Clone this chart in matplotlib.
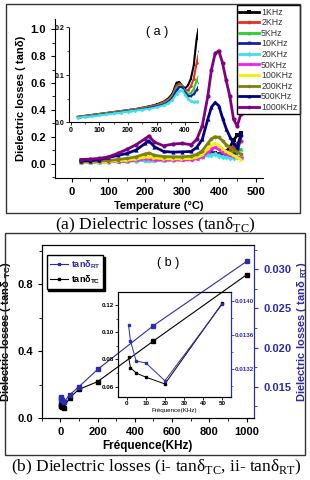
import matplotlib.pyplot as plt
from matplotlib.patches import Rectangle
from matplotlib.ticker import MultipleLocator, FormatStrFormatter

plt.rcParams['font.family'] = ['Liberation Sans', 'DejaVu Sans']
plt.rcParams['font.weight'] = 'bold'
plt.rcParams['axes.labelweight'] = 'bold'

# ---- (a) tan delta vs temperature ----
temp = [25, 50, 75, 100, 125, 150, 175, 200, 210, 225, 250, 275, 300, 325, 340,
        355, 370, 380, 390, 400, 410, 420, 430, 440, 450, 460]
tan_1k = [0.012, 0.014, 0.016, 0.018, 0.020, 0.022, 0.024, 0.026, 0.027, 0.028, 0.031, 0.034, 0.038,
          0.044, 0.050, 0.060, 0.084, 0.085, 0.077, 0.072, 0.078, 0.092, 0.120, 0.175, 0.210, 0.230]
tan_2k = [0.012, 0.014, 0.016, 0.018, 0.020, 0.022, 0.024, 0.026, 0.027, 0.028, 0.031, 0.034, 0.037,
          0.043, 0.048, 0.057, 0.078, 0.082, 0.076, 0.068, 0.068, 0.076, 0.092, 0.125, 0.150, 0.165]
tan_5k = [0.011, 0.013, 0.015, 0.017, 0.019, 0.021, 0.023, 0.025, 0.026, 0.027, 0.029, 0.032, 0.035,
          0.040, 0.045, 0.054, 0.072, 0.078, 0.076, 0.066, 0.060, 0.062, 0.070, 0.088, 0.100, 0.105]
tan_10k = [0.010, 0.012, 0.014, 0.016, 0.018, 0.020, 0.022, 0.024, 0.025, 0.026, 0.028, 0.031, 0.034,
           0.038, 0.043, 0.051, 0.068, 0.075, 0.074, 0.063, 0.056, 0.055, 0.060, 0.068, 0.080, 0.200]
tan_20k = [0.010, 0.012, 0.013, 0.015, 0.017, 0.019, 0.021, 0.023, 0.024, 0.025, 0.027, 0.029, 0.032,
           0.036, 0.040, 0.047, 0.060, 0.067, 0.068, 0.058, 0.050, 0.045, 0.044, 0.044, 0.045, 0.045]
tan_50k = [0.008, 0.009, 0.010, 0.012, 0.015, 0.018, 0.024, 0.035, 0.036, 0.030, 0.025, 0.025, 0.026,
           0.028, 0.035, 0.050, 0.085, 0.110, 0.120, 0.105, 0.085, 0.070, 0.060, 0.050, 0.045, 0.040]
tan_100k = [0.008, 0.010, 0.012, 0.015, 0.020, 0.025, 0.033, 0.048, 0.050, 0.042, 0.036, 0.035, 0.035,
            0.038, 0.045, 0.065, 0.110, 0.140, 0.150, 0.135, 0.110, 0.090, 0.075, 0.060, 0.045, 0.030]
tan_200k = [0.015, 0.016, 0.018, 0.022, 0.030, 0.038, 0.050, 0.072, 0.078, 0.062, 0.052, 0.050, 0.050,
            0.055, 0.068, 0.095, 0.150, 0.185, 0.200, 0.195, 0.170, 0.140, 0.120, 0.100, 0.085, 0.070]
tan_500k = [0.020, 0.022, 0.028, 0.045, 0.060, 0.075, 0.100, 0.150, 0.170, 0.125, 0.090, 0.085, 0.087,
            0.090, 0.120, 0.180, 0.330, 0.420, 0.455, 0.430, 0.340, 0.260, 0.200, 0.150, 0.120, 0.220]
tan_1000k = [0.030, 0.033, 0.038, 0.050, 0.075, 0.105, 0.140, 0.185, 0.205, 0.160, 0.132, 0.145, 0.150,
             0.140, 0.180, 0.280, 0.500, 0.700, 0.820, 0.840, 0.750, 0.620, 0.500, 0.330, 0.280, 0.370]

freq_labels = ['1KHz', '2KHz', '5KHz', '10KHz', '20KHz', '50KHz', '100KHz', '200KHz', '500KHz', '1000KHz']
series_a = [tan_1k, tan_2k, tan_5k, tan_10k, tan_20k, tan_50k, tan_100k, tan_200k, tan_500k, tan_1000k]
colors_a = ['black', '#e0302a', '#2ecc2e', '#1c1ca8', '#3fe0e8', '#f020f0', '#f5f000', '#808010', '#000080', '#800080']
markers_a = ['s', 'o', '^', 'v', 'D', '<', '>', 'h', '^', 'o']

# ---- (b) tan delta vs frequency ----
freq_b = [1, 2, 5, 10, 20, 50, 100, 200, 500, 1000]
tan_tc = [0.082, 0.074, 0.070, 0.067, 0.062, 0.1215, 0.171, 0.217, 0.46, 0.855]
tan_rt = [0.01371, 0.01353, 0.01329, 0.01327, 0.01306, 0.01396, 0.0150, 0.0172, 0.0228, 0.0310]

W, H = 310, 480
fig = plt.figure(figsize=(3.1, 4.8), dpi=100)


def box(l, t, r, b):
    return [l / W, 1 - b / H, (r - l) / W, (b - t) / H]


# panel frames
for l, t, r, b in [(6, 4, 300, 213), (5, 233, 305, 455)]:
    fig.add_artist(Rectangle((l / W, 1 - b / H), (r - l) / W, (b - t) / H,
                             transform=fig.transFigure, fill=False, ec='#333333', lw=1))

# ---------------- panel (a) ----------------
ax_a = fig.add_axes(box(55, 18.6, 263, 178.3))
for vals, c, m, lab in zip(series_a, colors_a, markers_a, freq_labels):
    ax_a.plot(temp, vals, color=c, marker=m, ms=3, lw=2, mew=0, label=lab)
ax_a.set_xlim(-45, 520)
ax_a.set_ylim(-0.11, 1.08)
ax_a.xaxis.set_major_locator(MultipleLocator(100))
ax_a.xaxis.set_minor_locator(MultipleLocator(50))
ax_a.yaxis.set_major_locator(MultipleLocator(0.2))
ax_a.yaxis.set_minor_locator(MultipleLocator(0.1))
ax_a.yaxis.set_major_formatter(FormatStrFormatter('%.1f'))
ax_a.spines[['top', 'right']].set_visible(False)
ax_a.tick_params(direction='out', length=3, width=0.8, labelsize=8)
ax_a.tick_params(which='minor', direction='out', length=2, width=0.6)
ax_a.set_xlabel("Temperature (°C)", fontsize=8, labelpad=3)
ax_a.set_ylabel("Dielectric losses ( tanδ)", fontsize=8, labelpad=3)
ax_a.legend(loc='upper right', bbox_to_anchor=(300 / W, 1 - 5 / H), bbox_transform=fig.transFigure,
            prop={'size': 6.3, 'weight': 'normal'}, handlelength=2.2, handletextpad=0.3,
            labelspacing=0.18, borderpad=0.3, fancybox=False, edgecolor='black',
            framealpha=1, borderaxespad=0, markerscale=0.9, labelcolor='#333333')
fig.text(157 / W, 1 - 32 / H, "( a )", fontsize=9, fontweight='normal', ha='center', va='center')

ax_ai = fig.add_axes(box(69.3, 27.5, 198, 122.5))
for vals, c, m in zip(series_a[:5], colors_a[:5], markers_a[:5]):
    ax_ai.plot(temp, vals, color=c, marker=m, ms=2, lw=1.5, mew=0)
ax_ai.set_xlim(-5, 445)
ax_ai.set_ylim(0, 0.2)
ax_ai.xaxis.set_major_locator(MultipleLocator(100))
ax_ai.xaxis.set_minor_locator(MultipleLocator(50))
ax_ai.yaxis.set_major_locator(MultipleLocator(0.1))
ax_ai.yaxis.set_minor_locator(MultipleLocator(0.05))
ax_ai.yaxis.set_major_formatter(FormatStrFormatter('%.1f'))
ax_ai.spines[['top', 'right']].set_visible(False)
ax_ai.tick_params(direction='out', length=2, width=0.6, labelsize=5, pad=1.5)
ax_ai.tick_params(which='minor', direction='out', length=1.2, width=0.5)
ax_ai.patch.set_alpha(0)

fig.text(0.5, 1 - 225 / H, r"(a) Dielectric losses (tanδ$_\mathregular{TC}$)", fontsize=12.5,
         fontfamily='Liberation Serif', fontweight='normal', ha='center', va='center')

# ---------------- panel (b) ----------------
blue = '#2b2bb0'
ax_b = fig.add_axes(box(41.7, 245, 254, 418))
ax_b2 = ax_b.twinx()
l_tc, = ax_b.plot(freq_b, tan_tc, color='black', marker='s', ms=3, lw=0.8,
                  label=r"tanδ$_\mathregular{TC}$")
l_rt, = ax_b2.plot(freq_b, tan_rt, color=blue, marker='s', ms=3, lw=0.8,
                   label=r"tanδ$_\mathregular{RT}$")
ax_b.set_xlim(-100, 1040)
ax_b.set_ylim(0, 1.033)
ax_b2.set_ylim(0.011, 0.0331)
ax_b.xaxis.set_major_locator(MultipleLocator(200))
ax_b.xaxis.set_minor_locator(MultipleLocator(100))
ax_b.yaxis.set_major_locator(MultipleLocator(0.4))
ax_b.yaxis.set_minor_locator(MultipleLocator(0.2))
ax_b.yaxis.set_major_formatter(FormatStrFormatter('%.1f'))
ax_b2.yaxis.set_major_locator(MultipleLocator(0.005))
ax_b2.yaxis.set_minor_locator(MultipleLocator(0.0025))
ax_b2.yaxis.set_major_formatter(FormatStrFormatter('%.3f'))
ax_b.tick_params(direction='out', length=3, width=0.8, labelsize=8, top=False)
ax_b.tick_params(which='minor', direction='out', length=2, width=0.6, top=False)
ax_b2.tick_params(direction='out', length=3, width=0.8, labelsize=8, colors=blue)
ax_b2.tick_params(which='minor', direction='out', length=2, width=0.6, colors=blue)
ax_b2.spines['right'].set_color(blue)
ax_b.set_xlabel("Fréquence(KHz)", fontsize=8.5, labelpad=2)
ax_b.set_ylabel(r"Dielectric losses ( tanδ $_\mathregular{TC}$)", fontsize=8, labelpad=3)
ax_b2.set_ylabel(r"Dielectric losses ( tanδ $_\mathregular{RT}$)", fontsize=8, color=blue, labelpad=3)
ax_b2.legend(handles=[l_rt, l_tc], loc='upper left', bbox_to_anchor=(46.7 / W, 1 - 255 / H),
             bbox_transform=fig.transFigure, prop={'size': 6.5, 'weight': 'bold'},
             handlelength=2.0, handletextpad=0.3, labelspacing=0.3, borderpad=0.35,
             fancybox=False, edgecolor='black', framealpha=1, borderaxespad=0,
             markerscale=0.7, labelcolor='linecolor',
             shadow={'color': 'black', 'alpha': 1, 'ox': 1.2, 'oy': -1.2})
fig.text(168 / W, 1 - 263 / H, "( b )", fontsize=9, fontweight='normal', ha='center', va='center')

ax_bi = fig.add_axes(box(118, 292, 231, 397))
ax_bi2 = ax_bi.twinx()
ax_bi.plot(freq_b[:6], tan_tc[:6], color='black', marker='s', ms=2, lw=0.7)
ax_bi2.plot(freq_b[:6], tan_rt[:6], color=blue, marker='s', ms=2, lw=0.7)
ax_bi.set_xlim(-4.5, 54.5)
ax_bi.set_ylim(0.0524, 0.1296)
ax_bi2.set_ylim(0.01287, 0.0141)
ax_bi.xaxis.set_major_locator(MultipleLocator(10))
ax_bi.yaxis.set_major_locator(MultipleLocator(0.02))
ax_bi.yaxis.set_minor_locator(MultipleLocator(0.01))
ax_bi.yaxis.set_major_formatter(FormatStrFormatter('%.2f'))
ax_bi2.yaxis.set_major_locator(MultipleLocator(0.0004))
ax_bi2.yaxis.set_minor_locator(MultipleLocator(0.0002))
ax_bi2.yaxis.set_major_formatter(FormatStrFormatter('%.4f'))
ax_bi.tick_params(direction='out', length=2, width=0.6, labelsize=4.5, pad=1, top=False)
ax_bi.tick_params(which='minor', direction='out', length=1.2, width=0.5)
ax_bi2.tick_params(direction='out', length=2, width=0.6, labelsize=4.5, pad=1, colors=blue)
ax_bi2.tick_params(which='minor', direction='out', length=1.2, width=0.5, colors=blue)
ax_bi2.spines['right'].set_color(blue)
ax_bi.set_xlabel("Fréquence(KHz)", fontsize=4.5, fontweight='normal', labelpad=1)
ax_bi.patch.set_alpha(0)
ax_bi2.patch.set_alpha(0)

fig.text(156 / W, 1 - 467 / H, r"(b) Dielectric losses (i- tanδ$_\mathregular{TC}$, ii- tanδ$_\mathregular{RT}$)",
         fontsize=12.5, fontfamily='Liberation Serif', fontweight='normal', ha='center', va='center')

fig.savefig('out.png', dpi=100)
